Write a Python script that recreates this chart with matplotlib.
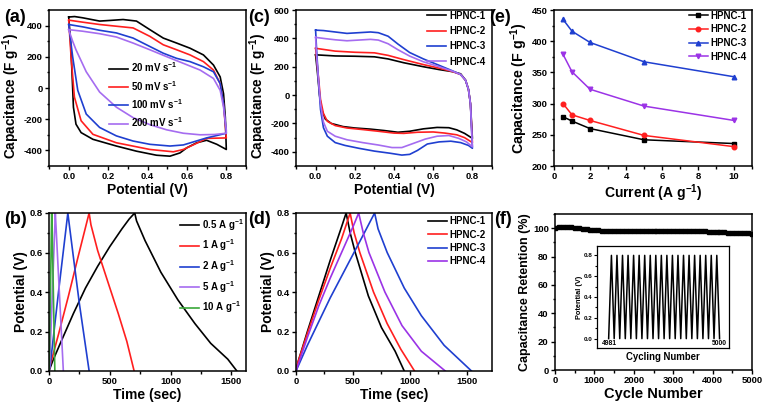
import matplotlib
matplotlib.use("Agg")
import matplotlib.pyplot as plt
from matplotlib.ticker import MultipleLocator

# ---------------- data ----------------
# (a) CV of HPNC-3 at different scan rates (loop: anodic then cathodic)
cv20_v = [0, 0.03, 0.071, 0.157, 0.208, 0.276, 0.344, 0.412, 0.48, 0.548, 0.616, 0.684, 0.735, 0.769, 0.786, 0.795, 0.8,
          0.8, 0.752, 0.70, 0.65, 0.60, 0.565, 0.514, 0.446, 0.344, 0.242, 0.123, 0.063, 0.037, 0.024, 0.017, 0.009, 0]
cv20_c = [455, 458, 450, 429, 433, 439, 429, 374, 320, 288, 255, 212, 147, 71, -37, -188, -394,
          -394, -361, -335, -351, -383, -416, -437, -431, -405, -372, -329, -286, -232, -123, 93, 309, 455]
cv50_v = [0, 0.071, 0.157, 0.242, 0.327, 0.412, 0.48, 0.548, 0.616, 0.684, 0.735, 0.769, 0.786, 0.8,
          0.8, 0.70, 0.64, 0.582, 0.531, 0.412, 0.242, 0.123, 0.063, 0.029, 0.012, 0]
cv50_c = [435, 422, 407, 396, 385, 331, 277, 245, 212, 169, 115, 28, -102, -320,
          -320, -323, -360, -394, -409, -394, -351, -297, -210, -58, 201, 435]
cv100_v = [0, 0.071, 0.157, 0.242, 0.327, 0.412, 0.48, 0.548, 0.616, 0.684, 0.735, 0.769, 0.786, 0.8,
           0.8, 0.70, 0.582, 0.514, 0.412, 0.327, 0.242, 0.157, 0.089, 0.046, 0.02, 0]
cv100_c = [407, 392, 370, 353, 320, 266, 223, 190, 169, 136, 104, 28, -102, -290,
           -290, -320, -365, -372, -361, -340, -307, -253, -167, -15, 201, 407]
cv200_v = [0, 0.071, 0.157, 0.242, 0.327, 0.412, 0.497, 0.582, 0.667, 0.735, 0.769, 0.786, 0.8,
           0.8, 0.74, 0.667, 0.582, 0.497, 0.412, 0.327, 0.242, 0.157, 0.089, 0.037, 0.02, 0]
cv200_c = [374, 364, 348, 327, 288, 245, 201, 158, 115, 61, -15, -123, -270,
           -290, -298, -300, -290, -268, -235, -190, -123, -26, 104, 245, 300, 374]
rate_labels = ["20 mV s$^{-1}$", "50 mV s$^{-1}$", "100 mV s$^{-1}$", "200 mV s$^{-1}$"]

# (c) CV of the four samples
h1_cv_v = [0, 0.1, 0.2, 0.3, 0.37, 0.45, 0.55, 0.63, 0.70, 0.74, 0.765, 0.78, 0.79, 0.8,
           0.8, 0.76, 0.72, 0.68, 0.62, 0.55, 0.48, 0.42, 0.35, 0.28, 0.2, 0.14, 0.08, 0.05, 0.03, 0.02, 0.01, 0]
h1_cv_c = [284, 276, 274, 270, 255, 228, 200, 180, 165, 150, 105, 40, -60, -305,
           -305, -270, -245, -230, -228, -238, -255, -262, -250, -240, -232, -222, -200, -170, -100, 0, 150, 284]
h2_cv_v = [0, 0.1, 0.2, 0.3, 0.37, 0.45, 0.55, 0.63, 0.70, 0.74, 0.765, 0.78, 0.79, 0.8,
           0.8, 0.76, 0.72, 0.66, 0.6, 0.52, 0.45, 0.4, 0.32, 0.24, 0.16, 0.1, 0.06, 0.04, 0.025, 0.015, 0.005, 0]
h2_cv_c = [330, 310, 302, 298, 280, 250, 215, 190, 165, 145, 105, 40, -60, -335,
           -335, -300, -280, -268, -260, -262, -270, -268, -255, -243, -232, -215, -185, -130, -30, 120, 260, 330]
h3_cv_v = [0, 0.04, 0.1, 0.16, 0.22, 0.28, 0.32, 0.37, 0.42, 0.48, 0.55, 0.63, 0.70, 0.74, 0.765, 0.78, 0.79, 0.8,
           0.8, 0.78, 0.74, 0.69, 0.63, 0.57, 0.52, 0.48, 0.44, 0.38, 0.3, 0.22, 0.15, 0.1, 0.06, 0.04, 0.025, 0.015,
           0.005, 0]
h3_cv_c = [458, 455, 445, 435, 440, 445, 440, 415, 360, 300, 255, 210, 170, 145, 105, 40, -60, -375,
           -375, -355, -335, -325, -330, -345, -390, -418, -423, -410, -395, -375, -355, -335, -290, -230, -100, 100,
           320, 458]
h4_cv_v = [0, 0.05, 0.1, 0.16, 0.22, 0.28, 0.32, 0.37, 0.42, 0.48, 0.55, 0.63, 0.70, 0.74, 0.765, 0.78, 0.79, 0.8,
           0.8, 0.77, 0.73, 0.68, 0.62, 0.56, 0.5, 0.44, 0.39, 0.32, 0.24, 0.16, 0.1, 0.06, 0.04, 0.025, 0.015, 0.005, 0]
h4_cv_c = [407, 398, 390, 383, 388, 393, 388, 362, 320, 275, 235, 200, 168, 145, 105, 40, -60, -365,
           -365, -330, -305, -285, -290, -310, -340, -370, -370, -352, -335, -315, -290, -255, -190, -60, 100, 280, 407]
samples = ["HPNC-1", "HPNC-2", "HPNC-3", "HPNC-4"]

# (e) rate capability
current = [0.5, 1, 2, 5, 10]
cap_h1 = [279, 272, 260, 242, 236]
cap_h2 = [300, 282, 273, 249, 231]
cap_h3 = [435, 416, 398, 367, 343]
cap_h4 = [379, 351, 323, 296, 273]

# (b) GCD of HPNC-3 at different current densities
gcd05_t = [0, 30, 100, 200, 300, 400, 500, 600, 660, 705, 720, 790, 920, 1060, 1200, 1330, 1470, 1545]
gcd05_v = [0, 0.05, 0.15, 0.29, 0.42, 0.53, 0.63, 0.72, 0.77, 0.80, 0.76, 0.66, 0.50, 0.36, 0.24, 0.14, 0.06, 0]
gcd1_t = [0, 10, 80, 160, 240, 330, 345, 400, 490, 570, 640, 700]
gcd1_v = [0, 0.03, 0.19, 0.38, 0.58, 0.80, 0.74, 0.61, 0.44, 0.29, 0.15, 0]
gcd2_t = [0, 10, 80, 155, 165, 200, 250, 290, 330]
gcd2_v = [0, 0.03, 0.41, 0.80, 0.75, 0.58, 0.34, 0.17, 0]
gcd5_t = [0, 5, 52, 57, 85, 118]
gcd5_v = [0, 0.02, 0.80, 0.74, 0.40, 0]
gcd10_t = [0, 3, 22, 26, 48]
gcd10_v = [0, 0.05, 0.80, 0.72, 0]
current_labels = ["0.5 A g$^{-1}$", "1 A g$^{-1}$", "2 A g$^{-1}$", "5 A g$^{-1}$", "10 A g$^{-1}$"]

# (d) GCD of the four samples at 0.5 A/g
h1_gcd_t = [0, 20, 100, 200, 300, 400, 440, 475, 520, 635, 750, 870, 950]
h1_gcd_v = [0, 0.05, 0.2, 0.38, 0.56, 0.73, 0.8, 0.70, 0.60, 0.38, 0.22, 0.10, 0]
h2_gcd_t = [0, 20, 100, 200, 300, 400, 475, 510, 560, 680, 800, 920, 1040]
h2_gcd_v = [0, 0.05, 0.19, 0.36, 0.52, 0.67, 0.8, 0.70, 0.60, 0.40, 0.24, 0.11, 0]
h3_gcd_t = [0, 100, 200, 300, 400, 500, 600, 690, 720, 800, 950, 1100, 1300, 1540]
h3_gcd_v = [0, 0.13, 0.25, 0.37, 0.48, 0.59, 0.70, 0.8, 0.72, 0.60, 0.42, 0.28, 0.13, 0]
h4_gcd_t = [0, 100, 200, 300, 400, 500, 550, 590, 640, 780, 930, 1100, 1310]
h4_gcd_v = [0, 0.17, 0.33, 0.47, 0.60, 0.73, 0.8, 0.70, 0.60, 0.40, 0.23, 0.10, 0]

# (f) cycling stability, one point every 100 cycles
cycles = list(range(0, 5001, 100))
retention = [100.2, 100.5, 100.8, 100.9, 100.6, 100.3, 99.8, 99.4, 99.1, 98.8,
             98.6, 98.4, 98.2, 98.1, 98.0, 98.0, 97.9, 98.0, 98.0, 97.9,
             98.0, 98.0, 97.9, 98.0, 98.0, 97.9, 97.9, 98.0, 97.9, 97.9,
             97.8, 97.9, 97.8, 97.8, 97.9, 97.8, 97.8, 97.7, 97.7, 97.6,
             97.5, 97.4, 97.2, 97.0, 96.9, 96.7, 96.6, 96.5, 96.4, 96.3, 96.2]
# inset: last 20 charge/discharge cycles
inset_x = [0, 0.5, 1, 1.5, 2, 2.5, 3, 3.5, 4, 4.5, 5, 5.5, 6, 6.5, 7, 7.5, 8, 8.5, 9, 9.5, 10,
           10.5, 11, 11.5, 12, 12.5, 13, 13.5, 14, 14.5, 15, 15.5, 16, 16.5, 17, 17.5, 18, 18.5, 19, 19.5, 20]
inset_v = [0, 0.8, 0, 0.8, 0, 0.8, 0, 0.8, 0, 0.8, 0, 0.8, 0, 0.8, 0, 0.8, 0, 0.8, 0, 0.8, 0,
           0.8, 0, 0.8, 0, 0.8, 0, 0.8, 0, 0.8, 0, 0.8, 0, 0.8, 0, 0.8, 0, 0.8, 0, 0.8, 0]

# ---------------- style ----------------
plt.rcParams.update({
    "font.family": "Liberation Sans",
    "font.weight": "bold",
    "axes.labelweight": "bold",
    "mathtext.fontset": "custom",
    "mathtext.rm": "Liberation Sans:bold",
    "mathtext.it": "Liberation Sans:bold",
    "mathtext.bf": "Liberation Sans:bold",
    "axes.unicode_minus": False,
    "axes.linewidth": 1.1,
})

BLACK = "#000000"
RED = "#ff1f1f"
BLUE = "#1f3fd0"
PURPLE = "#a56cf0"
PURPLE2 = "#9b33e6"
GREEN = "#3aa83a"

W, H = 767, 408
fig = plt.figure(figsize=(W / 100, H / 100), dpi=100)


def add_ax(x0, y0, x1, y1):
    return fig.add_axes([x0 / W, 1 - y1 / H, (x1 - x0) / W, (y1 - y0) / H])


def style(ax, xmaj, xmin, ymaj, ymin, size=6.8):
    ax.xaxis.set_major_locator(MultipleLocator(xmaj))
    ax.xaxis.set_minor_locator(MultipleLocator(xmin))
    ax.yaxis.set_major_locator(MultipleLocator(ymaj))
    ax.yaxis.set_minor_locator(MultipleLocator(ymin))
    ax.tick_params(which="both", direction="out", top=False, right=False,
                   labelsize=size, width=1, pad=1.5)
    ax.tick_params(which="major", length=3)
    ax.tick_params(which="minor", length=1.8)


def leg(ax, x, y, spacing, fs=7):
    ax.legend(loc="upper left", bbox_to_anchor=(x, y), frameon=False, fontsize=fs,
              borderpad=0, borderaxespad=0, handlelength=1.95, handletextpad=0.3,
              labelspacing=spacing)


lw = 1.2
YL = 9.8

# (a)
ax = add_ax(49, 10, 246, 166)
for v, c, col, lab in zip([cv20_v, cv50_v, cv100_v, cv200_v], [cv20_c, cv50_c, cv100_c, cv200_c],
                          [BLACK, RED, BLUE, PURPLE], rate_labels):
    ax.plot(v, c, color=col, lw=lw, label=lab)
ax.set_xlim(-0.1, 0.9)
ax.set_ylim(-500, 500)
ax.set_yticks([-400, -200, 0, 200, 400])
style(ax, 0.2, 0.1, 200, 100)
ax.set_xlabel("Potential (V)", fontsize=10, labelpad=1)
ax.set_ylabel("Capacitance (F g$^{-1}$)", fontsize=YL, labelpad=1, y=0.45)
leg(ax, 0.305, 0.675, 0.45)

# (c)
ax = add_ax(296, 10, 492, 166)
for v, c, col, lab in zip([h1_cv_v, h2_cv_v, h3_cv_v, h4_cv_v], [h1_cv_c, h2_cv_c, h3_cv_c, h4_cv_c],
                          [BLACK, RED, BLUE, PURPLE], samples):
    ax.plot(v, c, color=col, lw=lw, label=lab)
ax.set_xlim(-0.1, 0.9)
ax.set_ylim(-500, 600)
ax.set_yticks([-400, -200, 0, 200, 400, 600])
style(ax, 0.2, 0.1, 200, 100)
ax.set_xlabel("Potential (V)", fontsize=10, labelpad=1)
ax.set_ylabel("Capacitance (F g$^{-1}$)", fontsize=YL, labelpad=1, y=0.45)
leg(ax, 0.67, 0.995, 0.55)

# (e)
ax = add_ax(554, 10, 752, 166)
for y, col, mk, lab in zip([cap_h1, cap_h2, cap_h3, cap_h4], [BLACK, RED, BLUE, PURPLE2],
                           ["s", "o", "^", "v"], samples):
    ax.plot(current, y, color=col, lw=1.1, marker=mk, ms=3.3, label=lab)
ax.set_xlim(0, 11)
ax.set_ylim(200, 450)
style(ax, 2, 1, 50, 25)
ax.set_xlabel("Current (A g$^{-1}$)", fontsize=10, labelpad=1)
ax.set_ylabel("Capacitance (F g$^{-1}$)", fontsize=10.3, labelpad=1, y=0.5)
leg(ax, 0.68, 0.995, 0.37)

# (b)
ax = add_ax(49, 213, 246, 371)
for t, v, col, lab in zip([gcd05_t, gcd1_t, gcd2_t, gcd5_t, gcd10_t], [gcd05_v, gcd1_v, gcd2_v, gcd5_v, gcd10_v],
                          [BLACK, RED, BLUE, PURPLE, GREEN], current_labels):
    ax.plot(t, v, color=col, lw=lw, label=lab)
ax.set_xlim(0, 1620)
ax.set_ylim(0, 0.8)
style(ax, 500, 250, 0.2, 0.1)
ax.set_xlabel("Time (sec)", fontsize=10, labelpad=1)
ax.set_ylabel("Potential (V)", fontsize=10, labelpad=1)
leg(ax, 0.665, 0.975, 0.5)

# (d)
ax = add_ax(296, 213, 492, 371)
for t, v, col, lab in zip([h1_gcd_t, h2_gcd_t, h3_gcd_t, h4_gcd_t], [h1_gcd_v, h2_gcd_v, h3_gcd_v, h4_gcd_v],
                          [BLACK, RED, BLUE, PURPLE2], samples):
    ax.plot(t, v, color=col, lw=lw, label=lab)
ax.set_xlim(0, 1720)
ax.set_ylim(0, 0.8)
style(ax, 500, 250, 0.2, 0.1)
ax.set_xlabel("Time (sec)", fontsize=10, labelpad=1)
ax.set_ylabel("Potential (V)", fontsize=10, labelpad=1)
leg(ax, 0.673, 0.98, 0.35)

# (f)
ax = add_ax(555, 214, 752, 370)
ax.plot(cycles, retention, ls="none", marker="s", ms=2.8, color=BLACK)
ax.set_xlim(0, 5000)
ax.set_ylim(0, 110)
style(ax, 1000, 500, 20, 10)
ax.set_xlabel("Cycle Number", fontsize=10.5, labelpad=1)
ax.set_ylabel("Capacitance Retention (%)", fontsize=9, labelpad=1)

axi = add_ax(597, 246, 729, 348)
axi.plot(inset_x, inset_v, color=BLACK, lw=1.1)
axi.set_xlim(-2.1, 21.7)
axi.set_ylim(-0.09, 0.89)
axi.yaxis.set_major_locator(MultipleLocator(0.2))
axi.yaxis.set_minor_locator(MultipleLocator(0.1))
axi.set_xticks([])
axi.tick_params(which="both", direction="out", right=False, labelsize=4.5, width=0.8, pad=1)
axi.tick_params(which="major", length=2)
axi.tick_params(which="minor", length=1.2)
for s in axi.spines.values():
    s.set_linewidth(0.9)
axi.set_ylabel("Potential (V)", fontsize=5.3, labelpad=1)
axi.set_xlabel("Cycling Number", fontsize=6.9, labelpad=3)
axi.text(0.04, 0.045, "4981", transform=axi.transAxes, fontsize=4.9, ha="left", va="center")
axi.text(0.985, 0.045, "5000", transform=axi.transAxes, fontsize=4.9, ha="right", va="center")

# panel letters
for lab, x, y in [("(a)", 4, 9), ("(c)", 248, 9), ("(e)", 489, 9),
                  ("(b)", 4, 211), ("(d)", 248, 211), ("(f)", 494, 211)]:
    fig.text(x / W, 1 - y / H, lab, fontsize=13, fontweight="bold", ha="left", va="top")

fig.savefig("out.png", dpi=100)
